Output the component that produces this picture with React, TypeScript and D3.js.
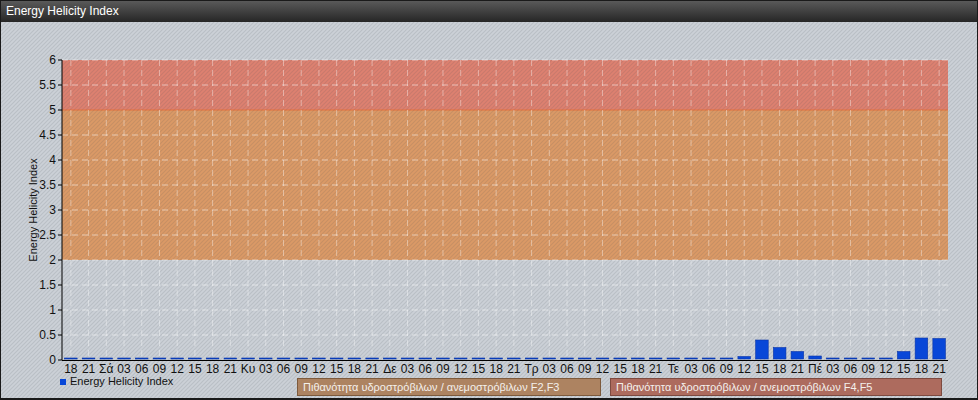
import React from "react";
import { scaleBand, scaleLinear, range } from "d3";

const WIDTH = 978;
const HEIGHT = 400;
const MARGIN = { top: 60, right: 30, bottom: 40, left: 62 };

// x tick labels, one per 3h slot
const X_LABELS = [
    "18", "21", "Σά", "03", "06", "09", "12", "15", "18", "21",
    "Κυ", "03", "06", "09", "12", "15", "18", "21",
    "Δε", "03", "06", "09", "12", "15", "18", "21",
    "Τρ", "03", "06", "09", "12", "15", "18", "21",
    "Τε", "03", "06", "09", "12", "15", "18", "21",
    "Πέ", "03", "06", "09", "12", "15", "18", "21",
];

const EHI_VALUES = [
    0.02, 0.02, 0.02, 0.02, 0.02, 0.02, 0.02, 0.02, 0.02, 0.02,
    0.02, 0.02, 0.02, 0.02, 0.02, 0.02, 0.02, 0.02,
    0.02, 0.02, 0.02, 0.02, 0.02, 0.02, 0.02, 0.02,
    0.02, 0.02, 0.02, 0.02, 0.02, 0.02, 0.02, 0.02,
    0.02, 0.02, 0.02, 0.02, 0.05, 0.38, 0.23, 0.15,
    0.06, 0.02, 0.02, 0.02, 0.02, 0.15, 0.42, 0.41,
];

const Y_TICKS = [0, 0.5, 1, 1.5, 2, 2.5, 3, 3.5, 4, 4.5, 5, 5.5, 6];

const ZONES = [
    { from: 2, to: 5, color: "#db9a66", label: "Πιθανότητα υδροστρόβιλων / ανεμοστρόβιλων F2,F3" },
    { from: 5, to: 6, color: "#de8170", label: "Πιθανότητα υδροστρόβιλων / ανεμοστρόβιλων F4,F5" },
];

const FONT = "'Liberation Sans', Arial, sans-serif";

export default function App() {
    const plotW = WIDTH - MARGIN.left - MARGIN.right;
    const plotH = HEIGHT - MARGIN.top - MARGIN.bottom;

    const x = scaleBand<number>()
        .domain(range(X_LABELS.length))
        .range([MARGIN.left, MARGIN.left + plotW])
        .paddingInner(0.29)
        .paddingOuter(0.145);
    const xc = (i: number) => (x(i) ?? 0) + x.bandwidth() / 2;
    const y = scaleLinear().domain([0, 6]).range([MARGIN.top + plotH, MARGIN.top]);

    const x0 = MARGIN.left;
    const x1 = MARGIN.left + plotW;

    return (
        <>
            <style>{`body{margin:0}`}</style>
            <svg width={WIDTH} height={HEIGHT} style={{ display: "block", fontFamily: FONT }}>
                <defs>
                    <pattern id="hatch" patternUnits="userSpaceOnUse" width={4} height={4}>
                        <path d="M-1,1 l2,-2 M0,4 l4,-4 M3,5 l2,-2" stroke="rgba(60,70,80,0.13)" strokeWidth={1.2} />
                    </pattern>
                    <linearGradient id="titleGrad" x1="0" y1="0" x2="0" y2="1">
                        <stop offset="0" stopColor="#5c5c5c" />
                        <stop offset="1" stopColor="#262626" />
                    </linearGradient>
                </defs>

                <rect x={0} y={0} width={WIDTH} height={HEIGHT} fill="#ccd1d7" />

                {/* risk zones */}
                {ZONES.map(z => (
                    <rect key={z.label} x={x0} y={y(z.to)} width={plotW} height={y(z.from) - y(z.to)} fill={z.color} />
                ))}
                <line x1={x0} x2={x1} y1={y(5)} y2={y(5)} stroke="#e8703c" strokeWidth={1} />

                {/* hatch over everything */}
                <rect x={0} y={0} width={WIDTH} height={HEIGHT} fill="url(#hatch)" />

                {/* grid */}
                {Y_TICKS.filter(t => t > 0 && t !== 5).map(t => (
                    <line key={"h" + t} x1={x0} x2={x1} y1={y(t)} y2={y(t)}
                        stroke="rgba(255,255,255,0.5)" strokeDasharray="6,4" />
                ))}
                {X_LABELS.map((_, i) => (
                    <line key={"v" + i} x1={xc(i)} x2={xc(i)} y1={y(6)} y2={y(0)}
                        stroke="rgba(255,255,255,0.4)" strokeDasharray="6,4" />
                ))}

                {/* bars */}
                {EHI_VALUES.map((v, i) => (
                    <rect key={"b" + i} x={x(i)} y={y(v) - 1} width={x.bandwidth()} height={y(0) - y(v)}
                        fill="#0847d8" stroke="#0a36a8" strokeWidth={0.6} />
                ))}

                {/* y axis */}
                <line x1={x0} x2={x0} y1={y(6)} y2={y(0)} stroke="#000" />
                {Y_TICKS.map(t => (
                    <g key={"yt" + t} transform={`translate(${x0},${y(t)})`}>
                        <line x1={-4} x2={0} stroke="#000" />
                        <text x={-6} dy="0.35em" textAnchor="end" fontSize={12} fill="#111">{t}</text>
                    </g>
                ))}
                <text transform={`translate(37,${(y(0) + y(6)) / 2}) rotate(-90)`} textAnchor="middle"
                    fontSize={11} fill="#111">Energy Helicity Index</text>

                {/* x axis */}
                <line x1={x0} x2={x1} y1={y(0) + 0.5} y2={y(0) + 0.5} stroke="#000" strokeWidth={1} />
                {X_LABELS.map((l, i) => (
                    <text key={"xl" + i} x={xc(i)} y={y(0) + 13} textAnchor="middle" fontSize={12} fill="#111">{l}</text>
                ))}

                {/* legend */}
                <rect x={60} y={379} width={6} height={6} fill="#0847d8" />
                <text x={70} y={385} fontSize={11} fill="#111">Energy Helicity Index</text>
                {ZONES.map((z, i) => {
                    const lx = i === 0 ? 297 : 610;
                    const lw = i === 0 ? 303 : 331;
                    return (
                        <g key={"lg" + i}>
                            <rect x={lx + 0.5} y={378.5} width={lw} height={17}
                                fill={i === 0 ? "#ad8361" : "#ad6b5e"} stroke={i === 0 ? "#7d5a3c" : "#7d4a40"} />
                            <text x={lx + 6} y={391} fontSize={11} fill="#f4f0ec">{z.label}</text>
                        </g>
                    );
                })}

                {/* title bar */}
                <rect x={0} y={0} width={WIDTH} height={22} fill="url(#titleGrad)" />
                <text x={6} y={15} fontSize={12} fill="#fff">Energy Helicity Index</text>

                <rect x={0.5} y={0.5} width={WIDTH - 1} height={HEIGHT - 1} fill="none" stroke="#1a1a1a" />
                <line x1={0} x2={WIDTH} y1={HEIGHT - 1} y2={HEIGHT - 1} stroke="#1a1a1a" strokeWidth={2} />
            </svg>
        </>
    );
}
